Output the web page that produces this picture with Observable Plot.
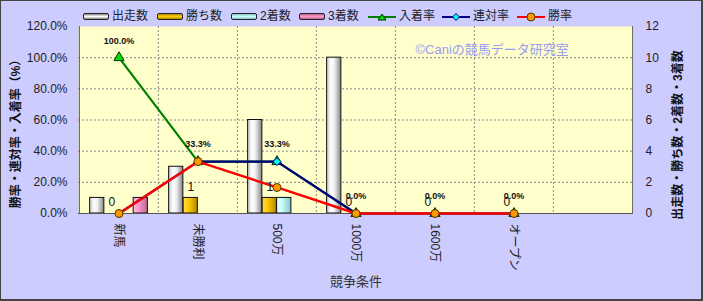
<!DOCTYPE html>
<html><head><meta charset="utf-8">
<script src="https://cdn.jsdelivr.net/npm/d3@7"></script>
<script src="https://cdn.jsdelivr.net/npm/@observablehq/plot@0.6"></script>
<style>
html,body{margin:0;padding:0;background:#fff;}
#wrap{position:relative;width:703px;height:301px;background:#ccccff;overflow:hidden;font-family:"Liberation Sans","Noto Sans CJK JP",sans-serif;color:#222;}
#wrap svg.chart{position:absolute;left:0;top:0;}
#border{position:absolute;left:0;top:0;width:703px;height:301px;box-sizing:border-box;border:1px solid #444;border-right-width:2px;border-bottom-width:2px;pointer-events:none;}
.lg{position:absolute;top:9px;height:15px;line-height:15px;display:flex;align-items:center;font-size:12px;white-space:nowrap;}
.sw{width:24px;height:5px;border:1px solid #222;border-radius:2px;margin-right:3px;}
.ls{margin-right:3px;display:block;}
</style></head>
<body>
<svg width="0" height="0" style="position:absolute">
<defs>
<linearGradient id="gStart" x1="0" x2="1" y1="0" y2="0"><stop offset="0" stop-color="#c4c4c4"/><stop offset="0.3" stop-color="#ffffff"/><stop offset="0.55" stop-color="#eeeeee"/><stop offset="1" stop-color="#858585"/></linearGradient>
<linearGradient id="gWin" x1="0" x2="1" y1="0" y2="0"><stop offset="0" stop-color="#ffdb4d"/><stop offset="0.35" stop-color="#ffcc00"/><stop offset="1" stop-color="#b38900"/></linearGradient>
<linearGradient id="g2nd" x1="0" x2="1" y1="0" y2="0"><stop offset="0" stop-color="#e8ffff"/><stop offset="0.35" stop-color="#ccffff"/><stop offset="1" stop-color="#86c4c4"/></linearGradient>
<linearGradient id="g3rd" x1="0" x2="1" y1="0" y2="0"><stop offset="0" stop-color="#ffb8dc"/><stop offset="0.35" stop-color="#ff99cc"/><stop offset="1" stop-color="#b8688f"/></linearGradient>
</defs></svg>
<div id="wrap"></div>
<script>
// ---- data ----
const categories = ["新馬", "未勝利", "500万", "1000万", "1600万", "オープン"];
const starts  = [1, 3, 6, 10, 0, 0];   // 出走数
const wins    = [0, 1, 1, 0, 0, 0];    // 勝ち数
const seconds = [0, 0, 1, 0, 0, 0];    // 2着数
const thirds  = [1, 0, 0, 0, 0, 0];    // 3着数
const placeRate  = [100, 33.3, 33.3, 0, 0, 0]; // 入着率
const rentaiRate = [0, 33.3, 33.3, 0, 0, 0];   // 連対率
const winRate    = [0, 33.3, 16.7, 0, 0, 0];   // 勝率
const yTicks = [0, 20, 40, 60, 80, 100, 120];
const leftTitle = "勝率・連対率・入着率（%）";
const rightTitle = "出走数・勝ち数・2着数・3着数";
const xTitle = "競争条件";
const watermark = "©Caniの競馬データ研究室";

// ---- layout ----
const W = 703, H = 301, mL = 78, mR = 70, mT = 26, mB = 88;
const xSlots = [...categories, ""];
const bw = (W - mL - mR) / xSlots.length;
const barW = bw * 0.183;
const inset = (i) => ({insetLeft: bw / 2 - 2 * barW + i * barW, insetRight: bw / 2 - 2 * barW + (3 - i) * barW});

const rows = categories.map((c, i) => ({
  cat: c, starts: starts[i], wins: wins[i], seconds: seconds[i], thirds: thirds[i],
  place: placeRate[i], rentai: rentaiRate[i], win: winRate[i]
}));

const barSeries = [
  {key: "starts", fill: "url(#gStart)"},
  {key: "wins", fill: "url(#gWin)"},
  {key: "seconds", fill: "url(#g2nd)"},
  {key: "thirds", fill: "url(#g3rd)"}
];

const marks = [
  Plot.frame({fill: "#ffffcc", stroke: "none"}),
  Plot.ruleY(yTicks.filter(d => d > 0 && d < 120), {stroke: "#8a8a8a", strokeDasharray: "2,2", strokeWidth: 1}),
  Plot.ruleX(xSlots.slice(1), {dx: -bw / 2, stroke: "#8a8a8a", strokeDasharray: "2,2", strokeWidth: 1}),
  ...barSeries.map((s, i) => Plot.barY(rows.filter(d => d[s.key] > 0), {
    x: "cat", y: d => d[s.key] * 10, fill: s.fill, stroke: "#111", strokeWidth: 1, ...inset(i)
  })),
  Plot.ruleY([0], {stroke: "#555", strokeWidth: 1}),
  Plot.ruleX([xSlots[0]], {dx: -bw / 2, stroke: "#555", strokeWidth: 1}),
  Plot.ruleX([xSlots[xSlots.length - 1]], {dx: bw / 2, stroke: "#555", strokeWidth: 1}),
  // 入着率
  Plot.line(rows, {x: "cat", y: "place", stroke: "#008000", strokeWidth: 2.2}),
  Plot.dot(rows, {x: "cat", y: "place", symbol: "triangle", r: 3.8, fill: "#00dd00", stroke: "#003300", strokeWidth: 1}),
  // 連対率
  Plot.line(rows, {x: "cat", y: "rentai", stroke: "#000080", strokeWidth: 2.2}),
  Plot.dot(rows, {x: "cat", y: "rentai", symbol: "diamond2", r: 3.6, fill: "#00ffff", stroke: "#000060", strokeWidth: 1}),
  // 勝率
  Plot.line(rows, {x: "cat", y: "win", stroke: "#ff0000", strokeWidth: 2.4}),
  Plot.dot(rows, {x: "cat", y: "win", symbol: "circle", r: 4, fill: "#ff9900", stroke: "#553300", strokeWidth: 1}),
  // labels
  Plot.text(rows, {x: "cat", y: d => d.wins * 10, text: d => String(d.wins), dx: -barW / 2, dy: -11, fontSize: 12, fill: "#111"}),
  Plot.text(rows, {x: "cat", y: "place", text: d => d.place.toFixed(1) + "%", dy: -17, fontSize: 9, fontWeight: "bold", fill: "#111"}),
  Plot.text([watermark], {text: d => d, frameAnchor: "top-left", dx: 415 - mL, dy: 44 - mT, textAnchor: "start", fill: "#9a9af0", fontSize: 13}),
  // axes
  Plot.axisY(yTicks, {anchor: "left", tickFormat: d => d.toFixed(1) + "%", tickSize: 0, tickPadding: 11, label: null, fontSize: 12}),
  Plot.axisY(yTicks, {anchor: "right", tickFormat: d => String(d / 10), tickSize: 0, tickPadding: 12, label: null, fontSize: 12}),
  Plot.axisX({tickRotate: 90, tickSize: 0, tickPadding: 10, label: null, fontSize: 12}),
  // titles
  Plot.text([leftTitle], {text: d => d, frameAnchor: "left", textAnchor: "middle", dx: -62, dy: 11, rotate: -90, fontSize: 12, fontWeight: "bold", fill: "#111"}),
  Plot.text([rightTitle], {text: d => d, frameAnchor: "right", textAnchor: "middle", dx: 45, dy: 15, rotate: -90, fontSize: 12, fontWeight: "bold", fill: "#111"}),
  Plot.text([xTitle], {text: d => d, frameAnchor: "bottom", dy: 72, fontSize: 13, fill: "#333"})
];

const chart = Plot.plot({
  width: W, height: H,
  marginLeft: mL, marginRight: mR, marginTop: mT, marginBottom: mB,
  x: {type: "band", domain: xSlots, padding: 0},
  y: {domain: [0, 120]},
  style: {background: "transparent", fontFamily: '"Liberation Sans","Noto Sans CJK JP",sans-serif', fontSize: "12px", color: "#222", overflow: "visible"},
  marks
});
chart.classList.add("chart");
const wrap = document.getElementById("wrap");
wrap.appendChild(chart);

// ---- legend ----
const legendItems = [
  {label: "出走数", type: "bar", grad: "linear-gradient(#888,#fff,#888)", x: 83},
  {label: "勝ち数", type: "bar", grad: "linear-gradient(#b38900,#ffcc00,#b38900)", x: 157},
  {label: "2着数", type: "bar", grad: "linear-gradient(#86c4c4,#ccffff,#86c4c4)", x: 231},
  {label: "3着数", type: "bar", grad: "linear-gradient(#b8688f,#ff99cc,#b8688f)", x: 299},
  {label: "入着率", type: "line", stroke: "#008000", sym: "tri", fill: "#00dd00", ms: "#003300", x: 368},
  {label: "連対率", type: "line", stroke: "#000080", sym: "dia", fill: "#00ffff", ms: "#000060", x: 442},
  {label: "勝率", type: "line", stroke: "#ff0000", sym: "cir", fill: "#ff9900", ms: "#553300", x: 517}
];
for (const it of legendItems) {
  const d = document.createElement("div");
  d.className = "lg";
  d.style.left = it.x + "px";
  if (it.type === "bar") {
    const s = document.createElement("div");
    s.className = "sw";
    s.style.background = it.grad;
    d.appendChild(s);
  } else {
    let m;
    if (it.sym === "tri") m = `<path d="M14,2 L18,8 L10,8 Z" fill="${it.fill}" stroke="${it.ms}"/>`;
    else if (it.sym === "dia") m = `<path d="M14,1.5 L17.5,5 L14,8.5 L10.5,5 Z" fill="${it.fill}" stroke="${it.ms}"/>`;
    else m = `<circle cx="14" cy="5" r="4" fill="${it.fill}" stroke="${it.ms}"/>`;
    d.insertAdjacentHTML("beforeend", `<svg class="ls" width="28" height="10"><line x1="0" x2="28" y1="5" y2="5" stroke="${it.stroke}" stroke-width="2"/>${m}</svg>`);
  }
  const t = document.createElement("span");
  t.textContent = it.label;
  d.appendChild(t);
  wrap.appendChild(d);
}
const b = document.createElement("div");
b.id = "border";
wrap.appendChild(b);
</script>
</body></html>
